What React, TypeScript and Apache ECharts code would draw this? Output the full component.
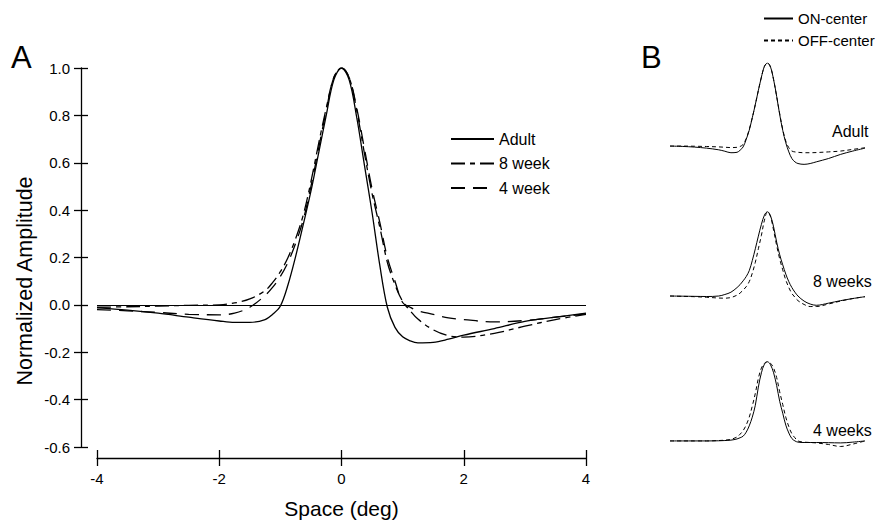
import React, { useEffect, useRef } from "react";
import * as echarts from "echarts";

// Spatial positions (deg) shared by all profiles
const X = [-4, -3.5, -3, -2.5, -2, -1.75, -1.5, -1.25, -1.125, -1, -0.875, -0.75, -0.625, -0.5, -0.375, -0.25, -0.125, 0, 0.125, 0.25, 0.375, 0.5, 0.625, 0.75, 0.875, 1, 1.125, 1.25, 1.5, 1.75, 2, 2.5, 3, 3.5, 4];

// Panel A: normalized amplitude
const ADULT = [-0.013, -0.022, -0.035, -0.052, -0.068, -0.074, -0.074, -0.062, -0.04, -0.005, 0.085, 0.205, 0.34, 0.48, 0.64, 0.8, 0.95, 1.0, 0.95, 0.79, 0.59, 0.39, 0.17, -0.01, -0.095, -0.135, -0.152, -0.16, -0.158, -0.145, -0.128, -0.1, -0.07, -0.052, -0.035];
const WEEK8 = [-0.01, -0.008, -0.005, -0.002, 0.0, 0.008, 0.025, 0.06, 0.095, 0.14, 0.2, 0.28, 0.38, 0.52, 0.68, 0.83, 0.96, 1.0, 0.96, 0.82, 0.64, 0.47, 0.33, 0.18, 0.085, 0.015, -0.025, -0.06, -0.105, -0.13, -0.136, -0.12, -0.09, -0.062, -0.04];
const WEEK4 = [-0.02, -0.025, -0.032, -0.04, -0.042, -0.035, -0.01, 0.04, 0.075, 0.12, 0.18, 0.26, 0.36, 0.5, 0.66, 0.82, 0.96, 1.0, 0.96, 0.83, 0.66, 0.49, 0.35, 0.2, 0.1, 0.01, -0.01, -0.025, -0.04, -0.055, -0.062, -0.072, -0.066, -0.052, -0.038];

// Panel B: ON / OFF center profiles
const B_ADULT_ON = [0, -0.004, -0.012, -0.025, -0.045, -0.062, -0.08, -0.075, -0.05, -0.01, 0.08, 0.19, 0.34, 0.5, 0.67, 0.83, 0.96, 1.0, 0.95, 0.8, 0.6, 0.38, 0.19, 0.04, -0.07, -0.15, -0.19, -0.21, -0.22, -0.21, -0.19, -0.15, -0.1, -0.06, -0.025];
const B_ADULT_OFF = [0, 0, -0.002, -0.005, -0.01, -0.014, -0.018, -0.015, -0.005, 0.02, 0.09, 0.2, 0.34, 0.5, 0.67, 0.83, 0.96, 1.0, 0.95, 0.8, 0.6, 0.39, 0.2, 0.06, -0.02, -0.06, -0.07, -0.075, -0.08, -0.08, -0.078, -0.07, -0.06, -0.04, -0.02];
const B_8W_ON = [0, -0.002, -0.004, -0.006, 0.0, 0.018, 0.045, 0.1, 0.135, 0.18, 0.23, 0.3, 0.42, 0.56, 0.71, 0.85, 0.96, 1.0, 0.95, 0.82, 0.64, 0.49, 0.37, 0.26, 0.17, 0.1, 0.045, 0.0, -0.06, -0.095, -0.11, -0.085, -0.055, -0.03, -0.008];
const B_8W_OFF = [0, -0.004, -0.008, -0.015, -0.024, -0.026, -0.018, 0.01, 0.035, 0.07, 0.11, 0.17, 0.27, 0.4, 0.56, 0.72, 0.9, 1.0, 0.94, 0.78, 0.6, 0.44, 0.31, 0.19, 0.1, 0.03, -0.015, -0.055, -0.1, -0.125, -0.125, -0.095, -0.06, -0.03, -0.008];
const B_4W_ON = [0, 0, 0, 0, 0.002, 0.005, 0.01, 0.025, 0.04, 0.06, 0.11, 0.19, 0.3, 0.45, 0.68, 0.86, 0.97, 1.0, 0.96, 0.86, 0.7, 0.5, 0.35, 0.2, 0.1, 0.03, 0.0, -0.015, -0.02, -0.02, -0.02, -0.022, -0.025, -0.015, 0];
const B_4W_OFF = [0, 0, 0, 0, 0.005, 0.01, 0.02, 0.05, 0.085, 0.13, 0.2, 0.3, 0.44, 0.6, 0.79, 0.92, 0.98, 1.0, 0.98, 0.92, 0.8, 0.62, 0.46, 0.3, 0.18, 0.09, 0.04, 0.0, -0.015, -0.02, -0.025, -0.045, -0.07, -0.04, 0];

const LEGEND_A = ["Adult", "8 week", "4 week"];
const LEGEND_B = ["ON-center", "OFF-center"];
const B_LABELS = ["Adult", "8 weeks", "4 weeks"];
const PANEL_LABELS = ["A", "B"];
const AXIS_NAMES = ["Space (deg)", "Normalized Amplitude"];

const FONT = "'Liberation Sans', Arial, Helvetica, sans-serif";
const BLACK = "#000";

const pair = (ys: number[]) => X.map((x, i) => [x, ys[i]]);

export default function App() {
  const ref = useRef<HTMLDivElement>(null);

  useEffect(() => {
    if (!ref.current) return;
    const chart = echarts.init(ref.current, undefined, { renderer: "svg" });

    const gridA = { left: 97, top: 68, width: 489, height: 379, outerBoundsMode: "none" };
    const bGrid = (top: number, height: number) => ({ left: 670, top, width: 195, height, outerBoundsMode: "none" });

    const hiddenX = (gridIndex: number) => ({ type: "value", gridIndex, min: -4, max: 4, show: false });
    const hiddenY = (gridIndex: number) => ({ type: "value", gridIndex, min: -0.3, max: 1.0, show: false });

    const lineSeries = (name: string, data: number[], xi: number, yi: number, type: any, width: number, extra: any = {}) => ({
      type: "line",
      name,
      data: pair(data),
      xAxisIndex: xi,
      yAxisIndex: yi,
      symbol: "none",
      showSymbol: false,
      smooth: 0.35,
      silent: true,
      lineStyle: { color: BLACK, width, type },
      itemStyle: { color: BLACK },
      ...extra,
    });

    const option: any = {
      animation: false,
      backgroundColor: "#fff",
      textStyle: { fontFamily: FONT, color: BLACK },
      grid: [gridA, { ...gridA }, bGrid(63, 108), bGrid(211.7, 109.6), bGrid(361.7, 103)],
      xAxis: [
        {
          type: "value",
          gridIndex: 0,
          min: -4,
          max: 4,
          interval: 2,
          offset: 11,
          splitLine: { show: false },
          axisLine: { show: true, onZero: false, lineStyle: { color: BLACK, width: 1.3 } },
          axisTick: { show: true, inside: false, length: 8, lineStyle: { color: BLACK, width: 1.3 } },
          axisLabel: { color: BLACK, fontSize: 15, fontFamily: FONT, margin: 13, formatter: (v: number) => String(v) },
          name: AXIS_NAMES[0],
          nameLocation: "middle",
          nameGap: 40,
          nameTextStyle: { color: BLACK, fontSize: 21, fontFamily: FONT },
        },
        {
          type: "value",
          gridIndex: 1,
          min: -4,
          max: 4,
          interval: 2,
          offset: 11,
          splitLine: { show: false },
          axisLine: { show: false, onZero: false },
          axisTick: { show: true, inside: true, length: 8, lineStyle: { color: BLACK, width: 1.3 } },
          axisLabel: { show: false },
        },
        hiddenX(2),
        hiddenX(3),
        hiddenX(4),
      ],
      yAxis: [
        {
          type: "value",
          gridIndex: 0,
          min: -0.6,
          max: 1.0,
          interval: 0.2,
          offset: 16,
          splitLine: { show: false },
          axisLine: { show: true, onZero: false, lineStyle: { color: BLACK, width: 1.3 } },
          axisTick: { show: true, inside: false, length: 7, lineStyle: { color: BLACK, width: 1.3 } },
          axisLabel: { color: BLACK, fontSize: 15, fontFamily: FONT, margin: 11, formatter: (v: number) => v.toFixed(1) },
        },
        {
          type: "value",
          gridIndex: 1,
          min: -0.6,
          max: 1.0,
          interval: 0.2,
          offset: 16,
          splitLine: { show: false },
          axisLine: { show: false, onZero: false },
          axisTick: { show: true, inside: true, length: 7, lineStyle: { color: BLACK, width: 1.3 } },
          axisLabel: { show: false },
        },
        hiddenY(2),
        hiddenY(3),
        hiddenY(4),
      ],
      legend: [
        {
          data: LEGEND_A,
          orient: "vertical",
          left: 450,
          top: 131,
          padding: 0,
          itemWidth: 43,
          itemHeight: 16,
          itemGap: 8.5,
          selectedMode: false,
          itemStyle: { opacity: 0, borderWidth: 0 },
          textStyle: { color: BLACK, fontSize: 16, fontFamily: FONT },
        },
        {
          data: LEGEND_B,
          orient: "vertical",
          left: 763,
          top: 11,
          padding: 0,
          itemWidth: 29,
          itemHeight: 16,
          itemGap: 7,
          selectedMode: false,
          itemStyle: { opacity: 0, borderWidth: 0 },
          textStyle: { color: BLACK, fontSize: 15, fontFamily: FONT },
        },
      ],
      series: [
        lineSeries(LEGEND_A[0], ADULT, 0, 0, "solid", 1.3, {
          markLine: {
            silent: true,
            symbol: ["none", "none"],
            label: { show: false },
            lineStyle: { color: BLACK, width: 1.2, type: "solid" },
            data: [{ yAxis: 0 }],
          },
        }),
        lineSeries(LEGEND_A[1], WEEK8, 0, 0, [14, 5, 5, 5], 1.3),
        lineSeries(LEGEND_A[2], WEEK4, 0, 0, [14, 8], 1.3),
        lineSeries(LEGEND_B[0], B_ADULT_ON, 2, 2, "solid", 1),
        lineSeries(LEGEND_B[1], B_ADULT_OFF, 2, 2, [4, 3], 1),
        lineSeries(LEGEND_B[0], B_8W_ON, 3, 3, "solid", 1),
        lineSeries(LEGEND_B[1], B_8W_OFF, 3, 3, [4, 3], 1),
        lineSeries(LEGEND_B[0], B_4W_ON, 4, 4, "solid", 1),
        lineSeries(LEGEND_B[1], B_4W_OFF, 4, 4, [4, 3], 1),
      ],
      graphic: [
        { type: "text", x: 11, y: 57, style: { text: PANEL_LABELS[0], fontSize: 31, fontFamily: FONT, fill: BLACK, verticalAlign: "middle" } },
        { type: "text", x: 641, y: 57, style: { text: PANEL_LABELS[1], fontSize: 31, fontFamily: FONT, fill: BLACK, verticalAlign: "middle" } },
        {
          type: "text",
          x: 25,
          y: 281,
          rotation: Math.PI / 2,
          style: { text: AXIS_NAMES[1], fontSize: 21.5, fontFamily: FONT, fill: BLACK, align: "center", verticalAlign: "middle" },
        },
        { type: "text", x: 832, y: 131, style: { text: B_LABELS[0], fontSize: 16, fontFamily: FONT, fill: BLACK, verticalAlign: "middle" } },
        { type: "text", x: 813, y: 281, style: { text: B_LABELS[1], fontSize: 16, fontFamily: FONT, fill: BLACK, verticalAlign: "middle" } },
        { type: "text", x: 813, y: 430, style: { text: B_LABELS[2], fontSize: 16, fontFamily: FONT, fill: BLACK, verticalAlign: "middle" } },
      ],
    };

    chart.setOption(option);
    return () => chart.dispose();
  }, []);

  return <div ref={ref} style={{ position: "absolute", left: 0, top: 0, width: 890, height: 521 }} />;
}
